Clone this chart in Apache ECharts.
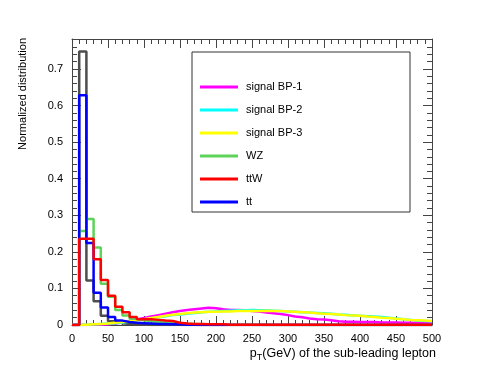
<!DOCTYPE html>
<html>
<head>
<meta charset="utf-8">
<script src="https://cdn.jsdelivr.net/npm/echarts@6/dist/echarts.min.js"></script>
<style>
  html, body { margin: 0; padding: 0; background: #fff; }
  #chart { width: 480px; height: 382px; }
</style>
</head>
<body>
<div id="chart"></div>
<script>
// pT of the sub-leading lepton, 10 GeV bins from 0 to 500
const binWidth = 10
const xTicks = [0, 50, 100, 150, 200, 250, 300, 350, 400, 450, 500]
const yTicks = [0, 0.1, 0.2, 0.3, 0.4, 0.5, 0.6, 0.7]

const bp1 = [
  0, 0, 0.001, 0.001, 0.002, 0.004, 0.007, 0.011, 0.015, 0.019,
  0.023, 0.027, 0.031, 0.035, 0.038, 0.041, 0.043, 0.045, 0.047, 0.046,
  0.043, 0.041, 0.041, 0.040, 0.038, 0.037, 0.034, 0.032, 0.030, 0.027,
  0.023, 0.021, 0.018, 0.016, 0.015, 0.013, 0.010, 0.009, 0.009, 0.008,
  0.008, 0.008, 0.007, 0.007, 0.007, 0.006, 0.006, 0.006, 0.005, 0.005
]
const bp2 = [
  0, 0.001, 0.002, 0.003, 0.004, 0.005, 0.007, 0.009, 0.012, 0.015,
  0.018, 0.021, 0.024, 0.027, 0.029, 0.031, 0.033, 0.035, 0.036, 0.037,
  0.038, 0.039, 0.040, 0.040, 0.041, 0.040, 0.040, 0.039, 0.038, 0.037,
  0.036, 0.035, 0.034, 0.033, 0.032, 0.031, 0.029, 0.028, 0.026, 0.025,
  0.024, 0.023, 0.022, 0.020, 0.018, 0.016, 0.014, 0.012, 0.011, 0.010
]
const bp3 = [
  0, 0.001, 0.002, 0.003, 0.004, 0.006, 0.008, 0.010, 0.013, 0.016,
  0.019, 0.022, 0.025, 0.028, 0.030, 0.032, 0.034, 0.035, 0.036, 0.036,
  0.037, 0.037, 0.038, 0.038, 0.038, 0.038, 0.039, 0.038, 0.038, 0.037,
  0.036, 0.035, 0.034, 0.032, 0.031, 0.030, 0.029, 0.027, 0.026, 0.025,
  0.023, 0.022, 0.020, 0.019, 0.017, 0.016, 0.014, 0.013, 0.012, 0.011
]
const wz = [
  0, 0.257, 0.290, 0.212, 0.113, 0.077, 0.041, 0.026, 0.017, 0.013,
  0.010, 0.008, 0.006, 0.005, 0.004, 0.003, 0.003, 0.002, 0.002, 0.002,
  0.001, 0.001, 0.001, 0.001, 0.001, 0.001, 0, 0, 0, 0,
  0, 0, 0, 0, 0, 0, 0, 0, 0, 0,
  0, 0, 0, 0, 0, 0, 0, 0, 0, 0
]
const ttw = [
  0, 0.236, 0.236, 0.180, 0.123, 0.080, 0.050, 0.035, 0.022, 0.016,
  0.016, 0.014, 0.012, 0.011, 0.006, 0.004, 0.003, 0.003, 0.002, 0.002,
  0.002, 0.001, 0.001, 0.001, 0.001, 0.001, 0.001, 0.001, 0.001, 0.001,
  0.001, 0.001, 0.001, 0.001, 0.001, 0.001, 0.001, 0.001, 0.001, 0.001,
  0.001, 0.001, 0.001, 0.001, 0.001, 0.001, 0.001, 0.001, 0.001, 0.001
]
const tt = [
  0, 0.628, 0.224, 0.088, 0.048, 0.022, 0.012, 0.008, 0.006, 0.005,
  0.004, 0.003, 0.003, 0.002, 0.002, 0.001, 0.001, 0, 0, 0,
  0, 0, 0, 0, 0, 0, 0, 0, 0, 0,
  0, 0, 0, 0, 0, 0, 0, 0, 0, 0,
  0, 0, 0, 0, 0, 0, 0, 0, 0, 0
]
// unlabelled dark histogram
const other = [
  0, 0.748, 0.122, 0.065, 0.025, 0.010, 0.005, 0.003, 0.002, 0.001,
  0, 0, 0, 0, 0, 0, 0, 0, 0, 0,
  0, 0, 0, 0, 0, 0, 0, 0, 0, 0,
  0, 0, 0, 0, 0, 0, 0, 0, 0, 0,
  0, 0, 0, 0, 0, 0, 0, 0, 0, 0
]

const font = 'Liberation Sans, Arial, sans-serif'

// histogram outline: [low edge, content] per bin plus the closing edge
function histPoints(vals) {
  const pts = vals.map((v, i) => [i * binWidth, v])
  pts.push([vals.length * binWidth, vals[vals.length - 1]])
  return pts
}

function hist(name, vals, color, z) {
  return {
    name: name,
    type: 'line',
    step: 'end',
    data: histPoints(vals),
    showSymbol: false,
    symbol: 'none',
    z: z,
    itemStyle: { color: color },
    lineStyle: { color: color, width: 2.5 },
    animation: false
  }
}

const chart = echarts.init(document.getElementById('chart'), null, { renderer: 'canvas' })

const frameColor = '#444'
const tickCommon = {
  axisLine: { show: true, onZero: false, lineStyle: { color: frameColor, width: 1 } },
  axisTick: { show: true, inside: true, length: 9, lineStyle: { color: frameColor } },
  minorTick: { show: true, splitNumber: 5, length: 5, lineStyle: { color: frameColor } },
  splitLine: { show: false }
}

chart.setOption({
  animation: false,
  backgroundColor: '#fff',
  grid: { left: 72, right: 48, top: 39, bottom: 57, containLabel: false },
  xAxis: [{
    type: 'value', min: xTicks[0], max: xTicks[xTicks.length - 1], interval: 50,
    position: 'bottom',
    ...tickCommon,
    axisLabel: { color: '#000', fontSize: 11, fontFamily: font, margin: 8 }
  }, {
    type: 'value', min: xTicks[0], max: xTicks[xTicks.length - 1], interval: 50,
    position: 'top',
    ...tickCommon,
    axisLabel: { show: false }
  }],
  yAxis: [{
    type: 'value', min: 0, max: 0.782, interval: 0.1,
    position: 'left',
    ...tickCommon,
    axisLabel: {
      color: '#000', fontSize: 11, fontFamily: font, margin: 9, showMaxLabel: false,
      formatter: v => (v === 0 ? '0' : (yTicks.includes(+v.toFixed(1)) ? v.toFixed(1) : ''))
    }
  }, {
    type: 'value', min: 0, max: 0.782, interval: 0.1,
    position: 'right',
    ...tickCommon,
    axisLabel: { show: false }
  }],
  legend: {
    data: ['signal BP-1', 'signal BP-2', 'signal BP-3', 'WZ', 'ttW', 'tt'],
    orient: 'vertical',
    left: 200,
    top: 80,
    padding: 0,
    itemWidth: 38,
    itemHeight: 3,
    itemGap: 9,
    icon: 'rect',
    z: 5,
    textStyle: { color: '#000', fontSize: 11, fontFamily: font, lineHeight: 14, padding: [0, 0, 0, 3] },
    selectedMode: false
  },
  graphic: [{
    type: 'rect',
    z: 4,
    shape: { x: 192, y: 52, width: 218, height: 160 },
    style: { fill: '#fff', stroke: '#333', lineWidth: 1 }
  }, {
    type: 'text',
    z: 5,
    x: 23,
    y: 38,
    rotation: Math.PI / 2,
    style: {
      text: 'Normalized distribution',
      fill: '#000',
      font: '11px ' + font,
      align: 'right',
      verticalAlign: 'middle'
    }
  }, {
    type: 'text',
    z: 5,
    x: 436,
    y: 354,
    style: {
      text: '{n|p}{s|T}{n|(GeV) of the sub-leading lepton}',
      align: 'right',
      verticalAlign: 'middle',
      rich: {
        n: { fontSize: 12.5, fontFamily: font, fill: '#000', lineHeight: 16, verticalAlign: 'middle' },
        s: { fontSize: 9, fontFamily: font, fill: '#000', lineHeight: 16, verticalAlign: 'bottom' }
      }
    }
  }],
  series: [
    hist('other', other, '#4d4d4d', 2),
    hist('signal BP-1', bp1, '#ff00ff', 3),
    hist('signal BP-2', bp2, '#00ffff', 3),
    hist('signal BP-3', bp3, '#ffff00', 3),
    hist('WZ', wz, '#5ed35a', 3),
    hist('tt', tt, '#0000ff', 3),
    hist('ttW', ttw, '#ff0000', 3)
  ]
})
</script>
</body>
</html>
